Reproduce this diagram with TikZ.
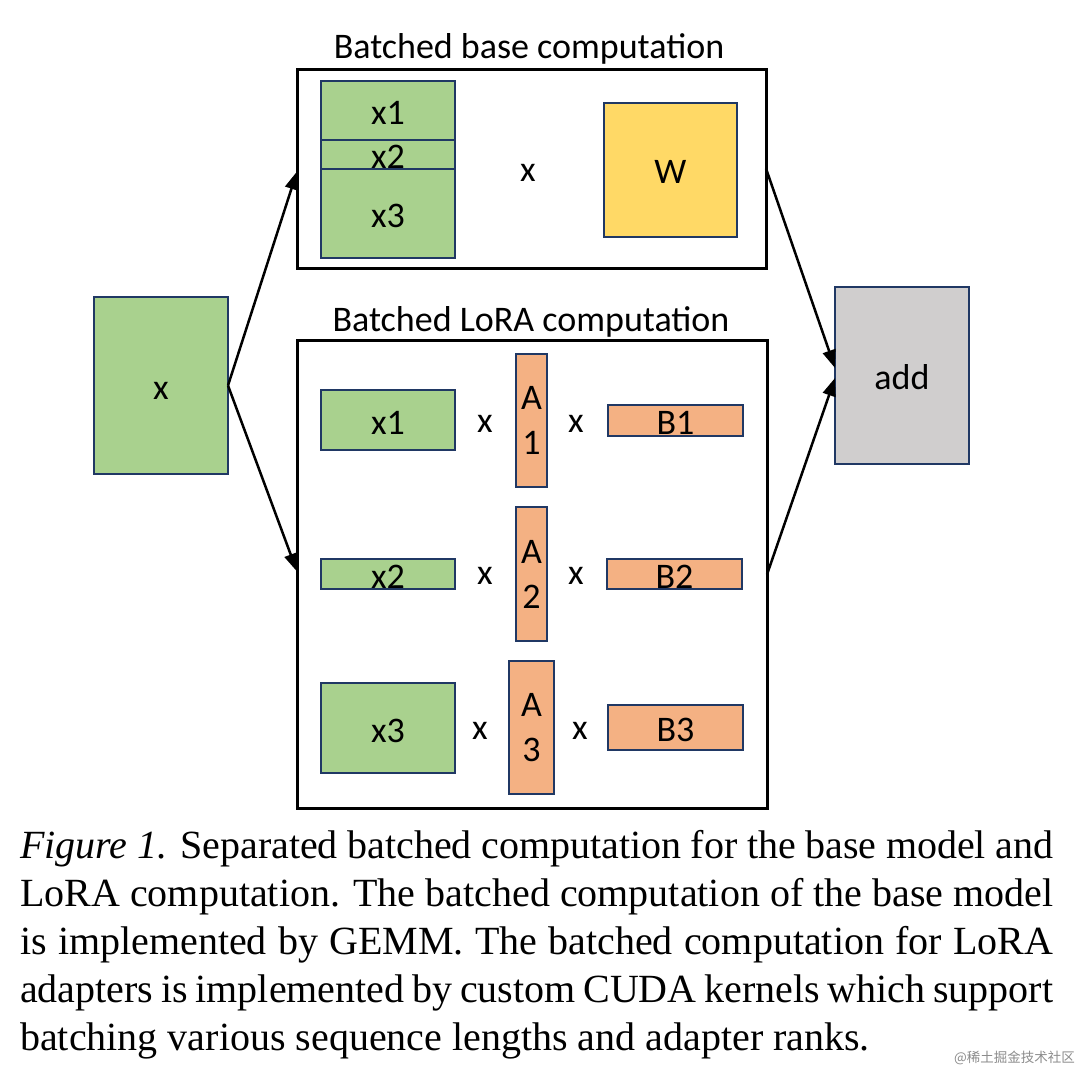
\documentclass[tikz,border=0pt]{standalone}
\usepackage{fontspec}
\setmainfont{Liberation Serif}
\newfontfamily\diagfont{Carlito}
\newfontfamily\cjkfont{Noto Sans CJK SC}
\usetikzlibrary{arrows.meta}
\definecolor{gfill}{HTML}{A9D18E}
\definecolor{yfill}{HTML}{FFD966}
\definecolor{ofill}{HTML}{F4B183}
\definecolor{afill}{HTML}{D0CECE}
\definecolor{navy}{HTML}{203864}
\tikzset{
  blk/.style={draw=navy, line width=2.8pt, inner sep=0pt, outer sep=0pt,
    font=\diagfont\fontsize{36}{40}\selectfont, anchor=north west},
  low/.style={text height=28pt, text depth=0pt},
  gblk/.style={blk, low, fill=gfill},
  yblk/.style={blk, low, fill=yfill},
  oblk/.style={blk, low, fill=ofill},
  ablk/.style={blk, low, fill=afill},
  avert/.style={blk, fill=ofill, align=center, font=\diagfont\fontsize{36}{45}\selectfont},
  frame/.style={draw=black, line width=3pt, inner sep=0pt, outer sep=0pt, anchor=north west},
  lbl/.style={font=\diagfont\fontsize{36}{40}\selectfont, inner sep=0pt},
  conn/.style={line width=2.5pt, -{Triangle[length=18pt,width=13pt]}},
  capline/.style={anchor=base west, inner sep=0pt, font=\fontsize{40}{48}\selectfont}
}
\begin{document}
\begin{tikzpicture}[x=1pt,y=-1pt]
\useasboundingbox[fill=white] (0,0) rectangle (1080,1078);

% frames
\node[frame, minimum width=469pt, minimum height=199pt] (base) at (297,70) {};
\node[frame, minimum width=470pt, minimum height=467pt] (lora) at (297,341) {};
\node[lbl] (basetitle) at (529,49) {Batched base computation};
\node[lbl] (loratitle) at (531,322) {Batched LoRA computation};

% input and output
\node[gblk, minimum width=134pt, minimum height=177pt] (xin) at (94,297) {x};
\node[ablk, minimum width=134pt, minimum height=177pt] (add) at (835,287) {add};

% base computation
\node[gblk, minimum width=134pt, minimum height=59pt] (bx1) at (321,81) {x1};
\node[gblk, minimum width=134pt, minimum height=29pt] (bx2) at (321,140) {x2};
\node[gblk, minimum width=134pt, minimum height=89pt] (bx3) at (321,169) {x3};
\node[lbl] (bmul) at (528,173) {x};
\node[yblk, minimum width=133pt, minimum height=134pt] (W) at (604,103) {W};

% LoRA row 1
\node[gblk, minimum width=134pt, minimum height=60pt] (lx1) at (321,390) {x1};
\node[lbl] (m11) at (485,424) {x};
\node[avert, minimum width=31pt, minimum height=133pt] (A1) at (516,354) {A\\1};
\node[lbl] (m12) at (576,424) {x};
\node[oblk, minimum width=135pt, minimum height=31pt] (B1) at (608,405) {B1};

% LoRA row 2
\node[gblk, minimum width=134pt, minimum height=30pt] (lx2) at (321,559) {x2};
\node[lbl] (m21) at (485,576) {x};
\node[avert, minimum width=31pt, minimum height=134pt] (A2) at (516,507) {A\\2};
\node[lbl] (m22) at (576,576) {x};
\node[oblk, minimum width=135pt, minimum height=30pt] (B2) at (607,559) {B2};

% LoRA row 3
\node[gblk, minimum width=134pt, minimum height=90pt] (lx3) at (321,683) {x3};
\node[lbl] (m31) at (480,731) {x};
\node[avert, minimum width=45pt, minimum height=133pt] (A3) at (509,661) {A\\3};
\node[lbl] (m32) at (580,731) {x};
\node[oblk, minimum width=135pt, minimum height=45pt] (B3) at (608,705) {B3};

% connectors
\draw[conn] (xin.east) -- ([yshift=-2pt]base.west);
\draw[conn] (xin.east) -- ([yshift=3pt]lora.west);
\draw[conn] ([yshift=1pt]base.east) -- ([yshift=7.5pt]add.west);
\draw[conn] (lora.east) -- ([yshift=-2.5pt]add.west);

% caption
\node[capline] (c1) at (20,858) {\makebox[1033pt][s]{\textit{Figure 1.} Separated batched computation for the base model and}};
\node[capline] (c2) at (20,906) {\makebox[1033pt][s]{LoRA computation. The batched computation of the base model}};
\node[capline] (c3) at (20,954) {\makebox[1033pt][s]{is implemented by GEMM. The batched computation for LoRA}};
\node[capline] (c4) at (20,1002) {\makebox[1033pt][s]{adapters is implemented by custom CUDA kernels which support}};
\node[capline] (c5) at (20,1050) {batching various sequence lengths and adapter ranks.};

% watermark
\node[anchor=base east, inner sep=0pt, text=black!45, font=\cjkfont\fontsize{13.5}{15}\selectfont] (wm) at (1075,1062) {@稀土掘金技术社区};
\end{tikzpicture}
\end{document}
